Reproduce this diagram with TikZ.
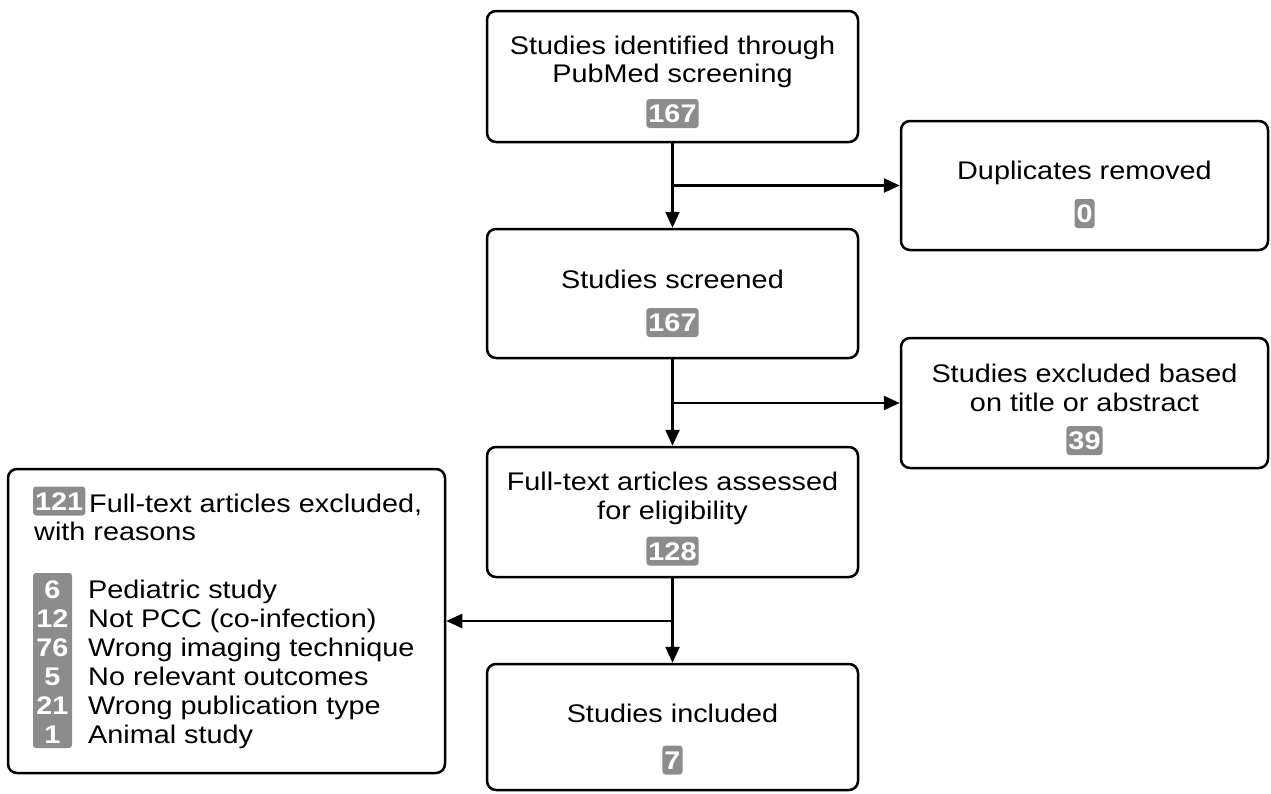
\documentclass[tikz,border=0pt]{standalone}
\usepackage{fontspec}
\setmainfont{Liberation Sans}[FakeStretch=1.13]
\usetikzlibrary{arrows.meta}
\definecolor{badgegray}{RGB}{140,140,140}
\tikzset{
  flowbox/.style={draw=black, line width=2.5pt, rounded corners=9pt, fill=white, inner sep=0pt},
  txt/.style={inner sep=0pt, anchor=base, font=\fontsize{25.5}{29}\selectfont, text=black},
  badge/.style={fill=badgegray, rounded corners=3pt, text=white, inner xsep=2pt, inner ysep=0pt,
     minimum height=29pt, text height=18.3pt, text depth=0pt, font=\fontsize{25.5}{29}\selectfont\bfseries},
  numtxt/.style={inner sep=0pt, anchor=base, text=white, font=\fontsize{25.5}{29}\selectfont\bfseries},
  arr/.style={line width=2.5pt, -{Triangle[length=16pt,width=14pt]}},
  conn/.style={line width=2.5pt}
}
\begin{document}
\begin{tikzpicture}[x=1pt,y=-1pt]
\useasboundingbox (0,0) rectangle (1271,793);
% boxes
\node[flowbox, minimum width=371pt, minimum height=131pt] (b1) at (672.5,76.5) {};
\node[flowbox, minimum width=367pt, minimum height=129pt] (dup) at (1084.5,185.5) {};
\node[flowbox, minimum width=371pt, minimum height=129pt] (scr) at (672.5,293.5) {};
\node[flowbox, minimum width=367pt, minimum height=130pt] (exc) at (1084.5,403) {};
\node[flowbox, minimum width=371pt, minimum height=130pt] (ft) at (672.5,512) {};
\node[flowbox, minimum width=437pt, minimum height=304pt] (lb) at (226.5,621) {};
\node[flowbox, minimum width=371pt, minimum height=126pt] (inc) at (672.5,727) {};
% texts
\node[txt] (t1a) at (672.5,54) {Studies identified through};
\node[txt] (t1b) at (672.5,82) {PubMed screening};
\node[badge] (n1) at (672.5,113.5) {167};
\node[txt] (t2) at (1084.5,179) {Duplicates removed};
\node[badge] (n2) at (1084.5,213.5) {0};
\node[txt] (t3) at (672.5,288) {Studies screened};
\node[badge] (n3) at (672.5,322.5) {167};
\node[txt] (t4a) at (1084.5,382) {Studies excluded based};
\node[txt] (t4b) at (1084.5,411) {on title or abstract};
\node[badge] (n4) at (1084.5,440.5) {39};
\node[txt] (t5a) at (672.5,490) {Full-text articles assessed};
\node[txt] (t5b) at (672.5,519) {for eligibility};
\node[badge] (n5) at (672.5,551) {128};
\node[txt] (t7) at (672.5,722) {Studies included};
\node[badge] (n7) at (672.5,760) {7};
% left box content
\node[badge, anchor=west] (n6) at (33,501) {121};
\node[txt, anchor=base west] (t6a) at (89,512) {Full-text articles excluded,};
\node[txt, anchor=base west] (t6b) at (34,540) {with reasons};
\node[fill=badgegray, rounded corners=3pt, inner sep=0pt, minimum width=39pt, minimum height=175pt] (col) at (52.5,660.5) {};
\node[numtxt] (r1n) at (52.5,598) {6};
\node[numtxt] (r2n) at (52.5,627) {12};
\node[numtxt] (r3n) at (52.5,656) {76};
\node[numtxt] (r4n) at (52.5,685) {5};
\node[numtxt] (r5n) at (52.5,714) {21};
\node[numtxt] (r6n) at (52.5,743) {1};
\node[txt, anchor=base west] (r1) at (88,598) {Pediatric study};
\node[txt, anchor=base west] (r2) at (88,627) {Not PCC (co-infection)};
\node[txt, anchor=base west] (r3) at (88,656) {Wrong imaging technique};
\node[txt, anchor=base west] (r4) at (88,685) {No relevant outcomes};
\node[txt, anchor=base west] (r5) at (88,714) {Wrong publication type};
\node[txt, anchor=base west] (r6) at (88,743) {Animal study};
% connectors
\coordinate (j1) at (b1.south |- dup.west);
\coordinate (j2) at (scr.south |- exc.west);
\coordinate (j3) at (ft.south |- lb.east);
\draw[arr] (b1.south) -- (scr.north);
\draw[arr] (j1) -- (dup.west);
\draw[arr] (scr.south) -- (ft.north);
\draw[arr] (j2) -- (exc.west);
\draw[arr] (ft.south) -- (inc.north);
\draw[arr] (j3) -- (lb.east);
\end{tikzpicture}
\end{document}
